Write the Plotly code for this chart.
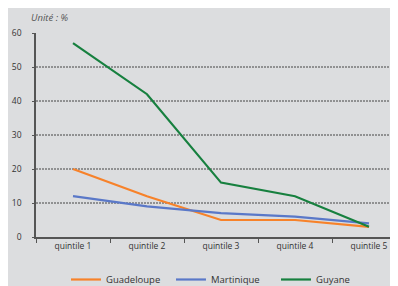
import plotly.graph_objects as go

categories = ["quintile 1", "quintile 2", "quintile 3", "quintile 4", "quintile 5"]
guadeloupe = [20, 12, 5, 5, 3]
martinique = [12, 9, 7, 6, 4]
guyane = [57, 42, 16, 12, 3]
y_ticks = [0, 10, 20, 30, 40, 50, 60]
grid_values = [10, 20, 30, 40, 50]

FONT = "Open Sans, Noto Sans, sans-serif"
fig = go.Figure()
for name, vals, col in [("Guadeloupe", guadeloupe, "#f7822a"),
                        ("Martinique", martinique, "#5a78c8"),
                        ("Guyane", guyane, "#17803f")]:
    fig.add_trace(go.Scatter(x=categories, y=vals, name=name, mode="lines",
                             line=dict(color=col, width=2.2)))

for g in grid_values:
    fig.add_shape(type="line", xref="paper", yref="y", x0=0, x1=1, y0=g, y1=g,
                  line=dict(color="#444444", width=1, dash="2px,1px"), layer="below")

fig.update_layout(
    width=398, height=286,
    margin=dict(l=28, r=0, t=25, b=52),
    paper_bgcolor="#dcdddf", plot_bgcolor="#dcdddf",
    font=dict(family=FONT, size=8.5, color="#333333"),
    showlegend=True,
    legend=dict(orientation="h", x=0.081, xanchor="left", y=-0.21, yanchor="middle",
                font=dict(size=9.5, color="#333333"), itemwidth=30,
                entrywidth=60, entrywidthmode="pixels",
                bgcolor="rgba(0,0,0,0)", tracegroupgap=0),
    xaxis=dict(showgrid=False, showline=True, linecolor="#555555", linewidth=1.5,
               range=[-0.5, 4.5],
               ticks="outside", tickson="boundaries", ticklen=4, tickcolor="#555555",
               tickwidth=1.2, zeroline=False, fixedrange=True),
    yaxis=dict(range=[0, 60], tickvals=y_ticks, showgrid=False, showline=True,
               linecolor="#555555", linewidth=1.5, ticks="outside", ticklen=2,
               tickcolor="#555555", zeroline=False, ticklabelstandoff=9),
    annotations=[dict(text="<i>Unité : %</i>", xref="paper", yref="paper",
                      x=-0.018, y=1.075, xanchor="left", yanchor="middle",
                      showarrow=False, font=dict(size=9.5, color="#555555"))],
)
fig.write_html("out.html")
